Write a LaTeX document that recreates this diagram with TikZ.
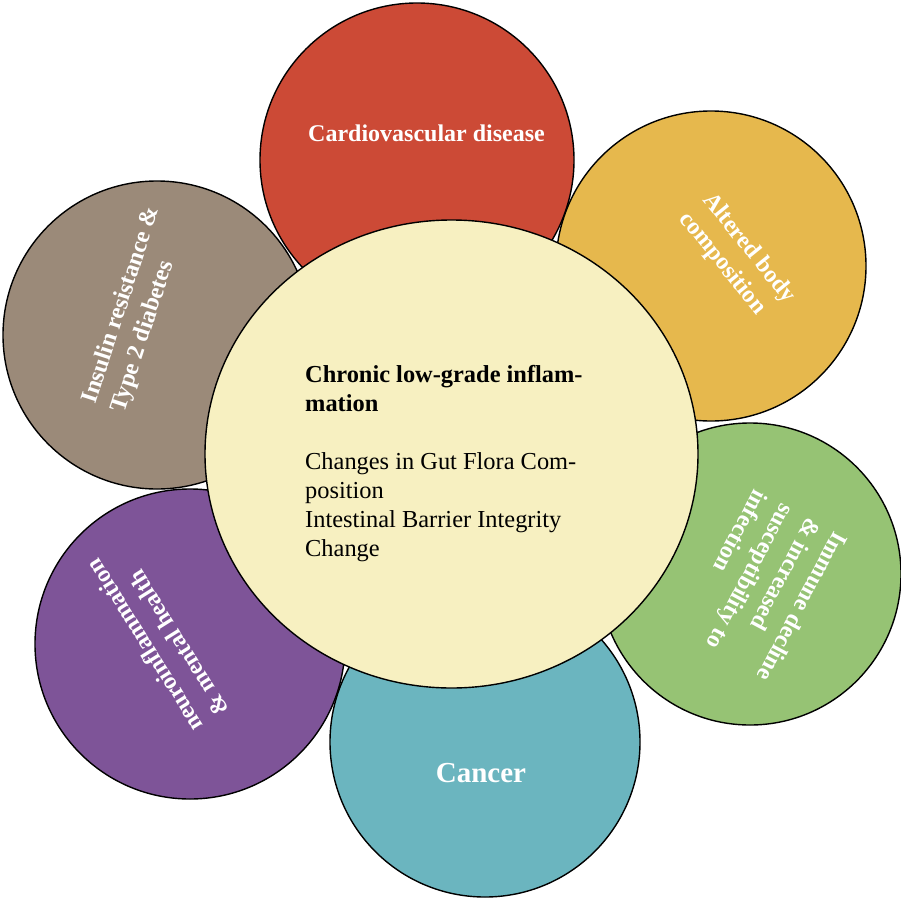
\documentclass[tikz,border=0pt]{standalone}
\usepackage{fontspec}
\setmainfont{Liberation Serif}
\usetikzlibrary{shapes.geometric}
\definecolor{cvred}{HTML}{CC4A36}
\definecolor{bodyorange}{HTML}{E6B84D}
\definecolor{immgreen}{HTML}{96C374}
\definecolor{cancteal}{HTML}{6BB5BF}
\definecolor{neuropurple}{HTML}{7E5498}
\definecolor{insbrown}{HTML}{9B8A79}
\definecolor{centeryellow}{HTML}{F7F0C1}
\tikzset{
  petal/.style={circle, draw=black, line width=1.4pt, inner sep=0pt},
  petaltext/.style={text=white, inner sep=0pt, align=left,
    font=\fontsize{24}{30}\selectfont\bfseries},
  hubtext/.style={text=black, inner sep=0pt, align=left,
    font=\fontsize{24.4}{29}\selectfont}
}
\begin{document}
\begin{tikzpicture}[x=1pt,y=1pt]
\useasboundingbox (0,0) rectangle (901,-905);
% petals
\node[petal, fill=cvred, minimum size=314pt] (cv) at (417,-160) {};
\node[petal, fill=bodyorange, minimum size=310pt] (body) at (711,-266) {};
\node[petal, fill=cancteal, minimum size=310pt] (canc) at (485,-742) {};
\node[petal, fill=immgreen, minimum size=302pt] (imm) at (750,-574) {};
\node[petal, fill=neuropurple, minimum size=310pt] (neuro) at (190,-644) {};
\node[petal, fill=insbrown, minimum size=308pt] (ins) at (157,-335) {};
% hub
\node[ellipse, draw=black, line width=1.4pt, fill=centeryellow, inner sep=0pt,
      minimum width=493pt, minimum height=468pt] (hub) at (451.5,-454) {};
% texts
\node[petaltext, anchor=base] (cvtext) at (426.5,-141) {Cardiovascular disease};
\node[petaltext, anchor=base, font=\fontsize{29}{34}\selectfont\bfseries] (canctext) at (481,-782) {Cancer};
\node[petaltext, rotate=72] (instext) at (136,-310) {Insulin resistance \&\\Type 2 diabetes};
\node[petaltext, rotate=-51] (bodytext) at (737,-258) {Altered body\\composition};
\node[petaltext, rotate=-118] (immtext) at (763,-586) {Immune decline\\\& increased\\susceptibility to\\infection};
\node[petaltext, rotate=122] (neurotext) at (157,-638) {neuroinflammation\\\& mental health};
\node[hubtext, anchor=north west] (hubtext) at (305,-365)
  {\textbf{Chronic low-grade inflam-}\\\textbf{mation}\\[29pt]Changes in Gut Flora Com-\\position\\Intestinal Barrier Integrity\\Change};
\end{tikzpicture}
\end{document}
